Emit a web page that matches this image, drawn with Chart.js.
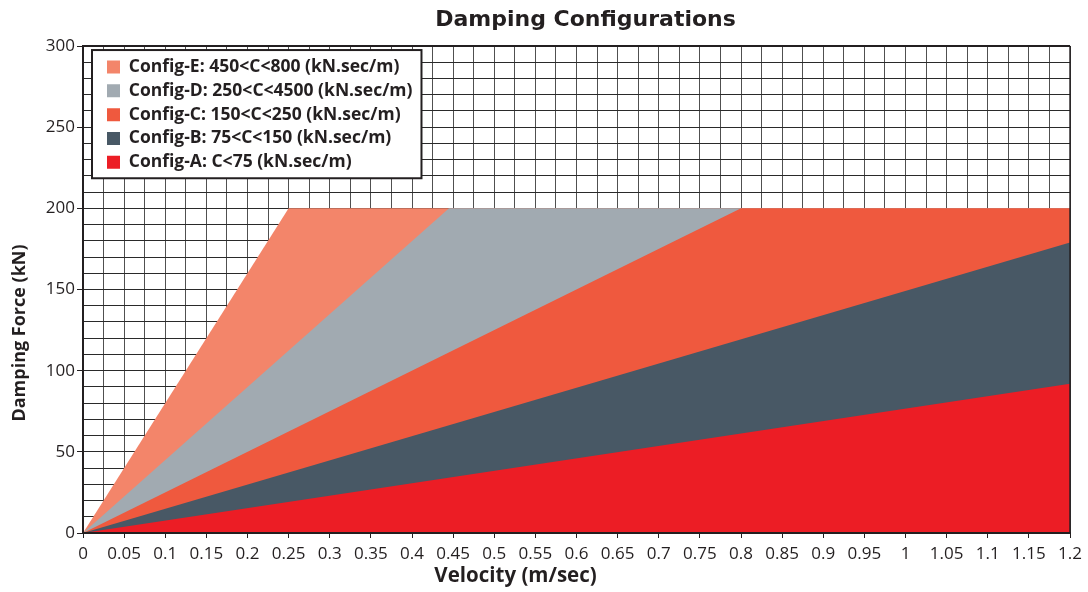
<!DOCTYPE html>
<html>
<head>
<meta charset="utf-8">
<script src="https://cdn.jsdelivr.net/npm/chart.js@4.4.1/dist/chart.umd.min.js"></script>
<style>
  html, body { margin: 0; padding: 0; background: #ffffff; }
  canvas { display: block; }
</style>
</head>
<body>
<canvas id="chart" width="1088" height="592"></canvas>
<script>
// ---------------- data ----------------
const seriesNames = [
  'Config-A: C<75 (kN.sec/m)',
  'Config-B: 75<C<150 (kN.sec/m)',
  'Config-C: 150<C<250 (kN.sec/m)',
  'Config-D: 250<C<4500 (kN.sec/m)',
  'Config-E: 450<C<800 (kN.sec/m)'
];
const seriesColors = ['#EC1D25', '#485865', '#EF593E', '#A1AAB1', '#F3856A'];

const configA_velocity = [0, 1.2];
const configA_force    = [0, 92];
const configB_velocity = [0, 1.2];
const configB_force    = [0, 179];
const configC_velocity = [0, 0.8, 1.2];
const configC_force    = [0, 200, 200];
const configD_velocity = [0, 0.445, 1.2];
const configD_force    = [0, 200, 200];
const configE_velocity = [0, 0.25, 1.2];
const configE_force    = [0, 200, 200];

const xTickLabels = ['0','0.05','0.1','0.15','0.2','0.25','0.3','0.35','0.4','0.45','0.5','0.55',
                     '0.6','0.65','0.7','0.75','0.8','0.85','0.9','0.95','1','1.05','1.1','1.15','1.2'];
const yTickLabels = ['0','50','100','150','200','250','300'];

// ---------------- helpers ----------------
const INK = '#231f20';
const toPoints = (vx, fy) => vx.map((v, i) => ({ x: v, y: fy[i] }));
const xLabelFor = (v) => { const k = Math.round(v * 1000); return k % 50 === 0 ? xTickLabels[k / 50] : ''; };
const yLabelFor = (v) => { const k = Math.round(v); return k % 50 === 0 ? yTickLabels[k / 50] : ''; };

const LEG_FONT = 17.5, LEG_BOX = 13, LEG_PAD = 6.3;
const LEG_DX = 17.7, LEG_DY = 6;
const ITEM_H = Math.max(LEG_FONT, LEG_BOX);

function drawLegendFrame(chart) {
  const lg = chart.legend, ctx = chart.ctx;
  const n = lg.legendItems.length;
  const firstTop = lg.top + LEG_PAD;
  const c0 = firstTop + ITEM_H / 2;
  const cN = firstTop + (n - 1) * (ITEM_H + LEG_PAD) + ITEM_H / 2;
  const left = lg.left + LEG_PAD - 15;
  const top = c0 - 17;
  const bottom = cN + 16;
  let right = 0;
  lg.legendHitBoxes.forEach(hb => { right = Math.max(right, hb.width); });
  right += lg.left + LEG_PAD + 9;
  ctx.save();
  ctx.fillStyle = '#ffffff';
  ctx.fillRect(left, top, right - left, bottom - top);
  ctx.lineWidth = 2;
  ctx.strokeStyle = INK;
  ctx.strokeRect(left, top, right - left, bottom - top);
  ctx.restore();
}

function wrapShift(obj, method, dx, dy) {
  if (!obj || obj['_wrapped_' + method]) return;
  const orig = obj[method].bind(obj);
  obj[method] = function (...args) {
    const ctx = this.ctx;
    ctx.save();
    ctx.translate(dx, dy);
    orig(...args);
    ctx.restore();
  };
  obj['_wrapped_' + method] = true;
}

const layoutPlugin = {
  id: 'layoutTweaks',
  beforeLayout(chart) {
    const lg = chart.legend;
    if (lg && !lg._customLayer) {
      lg._customLayer = true;
      lg._layers = () => [{ z: 1, draw: (area) => { drawLegendFrame(chart); lg.draw(area); } }];
    }
  },
  afterLayout(chart) {
    const lg = chart.legend, a = chart.chartArea;
    lg.left = a.left + LEG_DX; lg.right = a.right;
    lg.top = a.top + LEG_DY; lg.bottom = a.bottom;
    wrapShift(chart.scales.x, 'drawTitle', -61, 0);
    wrapShift(chart.scales.y, 'drawTitle', 0, 43.5);
    wrapShift(chart.titleBlock, 'draw', 9, 0);
  },
  afterDatasetsDraw(chart) {
    const { ctx, chartArea: a } = chart;
    ctx.save();
    ctx.strokeStyle = INK;
    ctx.lineWidth = 2;
    ctx.beginPath();
    ctx.moveTo(a.left, a.top);
    ctx.lineTo(a.right, a.top);
    ctx.stroke();
    ctx.lineWidth = 1.5;
    ctx.beginPath();
    ctx.moveTo(a.right, a.top);
    ctx.lineTo(a.right, a.bottom);
    ctx.stroke();
    ctx.restore();
  }
};

const seriesData = [
  toPoints(configA_velocity, configA_force),
  toPoints(configB_velocity, configB_force),
  toPoints(configC_velocity, configC_force),
  toPoints(configD_velocity, configD_force),
  toPoints(configE_velocity, configE_force)
];

const datasets = seriesNames.map((name, i) => ({
  label: name,
  data: seriesData[i],
  backgroundColor: seriesColors[i],
  borderColor: seriesColors[i],
  borderWidth: 0,
  pointRadius: 0,
  fill: 'origin',
  tension: 0
}));

new Chart(document.getElementById('chart'), {
  type: 'line',
  data: { datasets },
  plugins: [layoutPlugin],
  options: {
    responsive: false,
    animation: false,
    devicePixelRatio: 1,
    layout: { padding: { left: 0, right: 16, top: 0, bottom: 0 } },
    plugins: {
      tooltip: { enabled: false },
      title: {
        display: true,
        text: 'Damping Configurations',
        color: INK,
        fullSize: false,
        font: { family: 'DejaVu Sans', size: 22, weight: 'bold' },
        padding: { top: 7.5, bottom: 12.1 }
      },
      legend: {
        display: true,
        position: 'chartArea',
        align: 'start',
        reverse: true,
        labels: {
          boxWidth: LEG_BOX,
          boxHeight: LEG_BOX,
          padding: LEG_PAD,
          color: INK,
          font: { family: 'Open Sans', size: LEG_FONT, weight: 'bold' }
        }
      }
    },
    scales: {
      x: {
        type: 'linear',
        min: 0,
        max: 1.2,
        afterFit: (s) => { s.height = 59; },
        ticks: {
          stepSize: 0.025,
          precision: 3,
          autoSkip: false,
          maxRotation: 0,
          minRotation: 0,
          padding: 6,
          color: INK,
          font: { family: 'Open Sans', size: 17 },
          callback: (v) => xLabelFor(v)
        },
        grid: {
          color: '#505050',
          lineWidth: 1,
          tickLength: 5,
          tickColor: (c) => (c.tick && xLabelFor(c.tick.value) !== '' ? INK : 'rgba(0,0,0,0)')
        },
        border: { display: true, color: INK, width: 2, z: 1 },
        title: {
          display: true,
          text: 'Velocity (m/sec)',
          color: INK,
          font: { family: 'Open Sans', size: 20.5, weight: 'bold' },
          padding: { top: 0, bottom: 4 }
        }
      },
      y: {
        type: 'linear',
        min: 0,
        max: 300,
        afterFit: (s) => { s.width = 83; },
        ticks: {
          stepSize: 10,
          precision: 0,
          autoSkip: false,
          padding: 2,
          color: INK,
          font: { family: 'Open Sans', size: 17 },
          callback: (v) => yLabelFor(v)
        },
        grid: {
          color: '#2a2a2a',
          lineWidth: 1,
          tickLength: 6,
          tickColor: (c) => (c.tick && yLabelFor(c.tick.value) !== '' ? INK : 'rgba(0,0,0,0)')
        },
        border: { display: true, color: INK, width: 2, z: 1 },
        title: {
          display: true,
          text: 'Damping Force (kN)',
          color: INK,
          font: { family: 'Open Sans', size: 18, weight: 'bold' },
          padding: { top: 8.6, bottom: 0 }
        }
      }
    }
  }
});
</script>
</body>
</html>
